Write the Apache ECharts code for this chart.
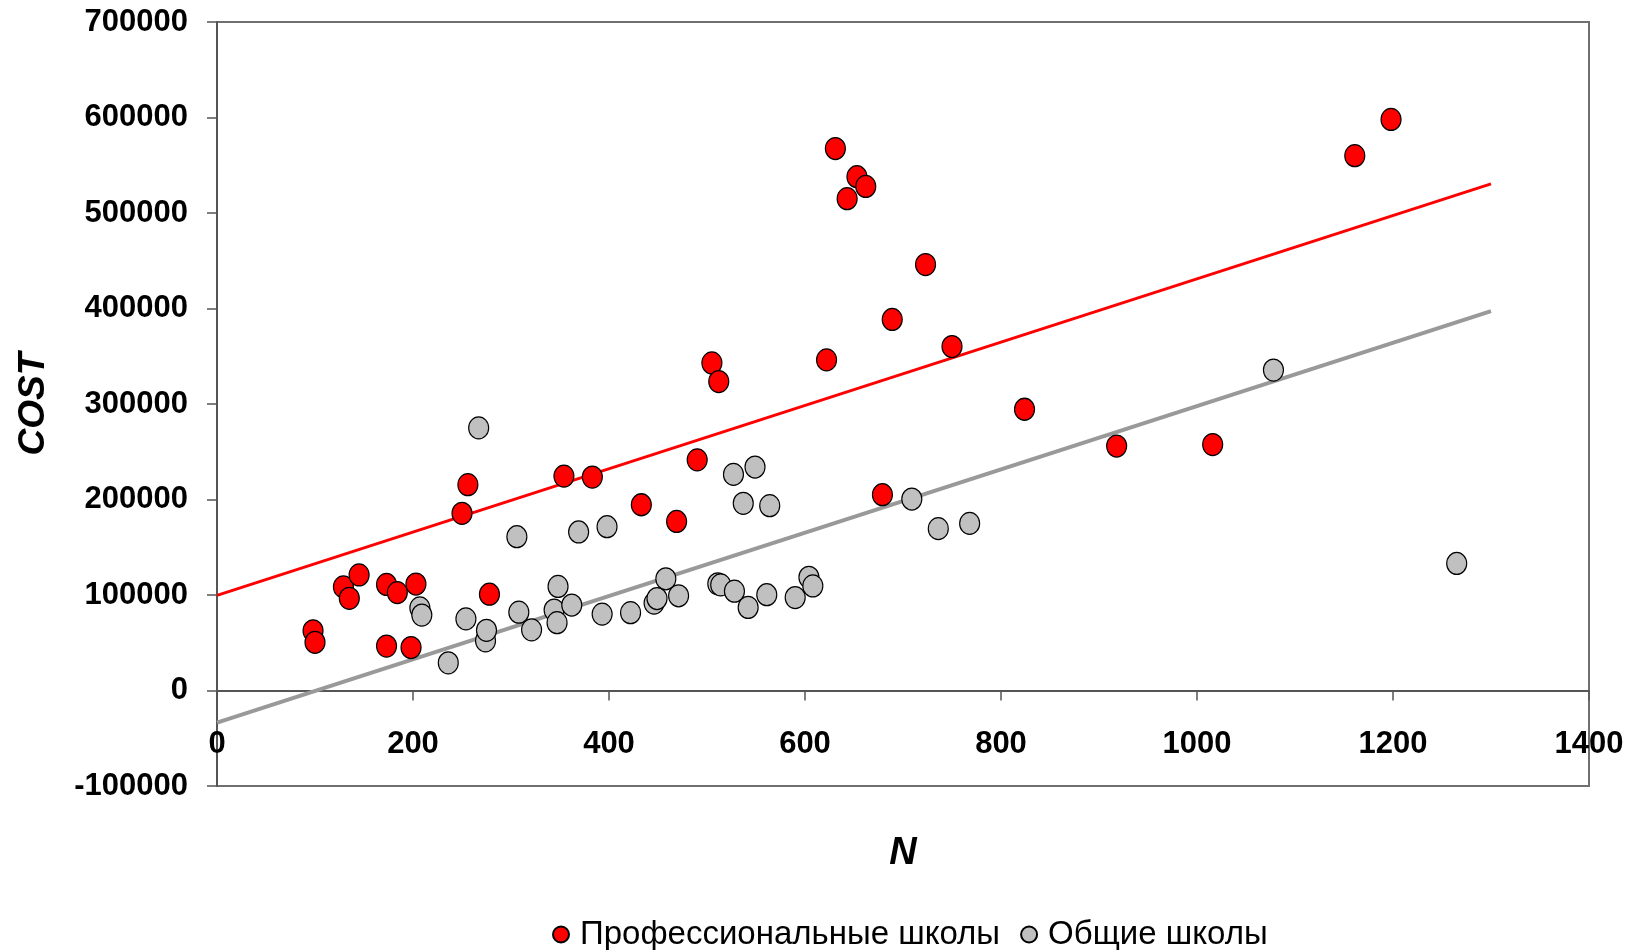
<!DOCTYPE html>
<html>
<head>
<meta charset="utf-8">
<script src="https://cdn.jsdelivr.net/npm/echarts@6/dist/echarts.min.js"></script>
<style>
html,body{margin:0;padding:0;background:#fff;}
#chart{width:1643px;height:950px;}
</style>
</head>
<body>
<div id="chart"></div>
<script>
// Профессиональные школы (occupational schools): [N, COST]
const profSchools = [
  [98, 62500], [100, 50500], [129, 108500], [135, 96500], [145, 121000],
  [173, 111000], [173, 46500], [184, 102500], [198, 45000], [203, 111500],
  [250, 185500], [256, 215500], [278, 100800], [354, 224500], [383, 223500],
  [433, 194500], [469, 177000], [490, 241500], [505, 343000], [512, 323500],
  [622, 346200], [631, 567500], [643, 515000], [653, 538000], [662, 527800],
  [679, 205000], [689, 388500], [723, 446000], [750, 360200], [824, 294500],
  [918, 256000], [1016, 257500], [1161, 560000], [1198, 598000]
];
// Общие школы (general schools): [N, COST]
const genSchools = [
  [207, 86500], [209, 79000], [236, 29000], [254, 75000], [267, 275000],
  [274, 52000], [275, 63000], [306, 161000], [308, 82000], [321, 63500],
  [344, 84200], [347, 71000], [348, 109000], [362, 89500], [369, 166000],
  [393, 80000], [398, 171500], [422, 81500], [446, 91500], [449, 96300],
  [458, 117000], [471, 99200], [511, 111700], [514, 110600], [527, 226300],
  [528, 104000], [537, 196000], [542, 87000], [549, 234000], [561, 100300],
  [564, 193500], [590, 97300], [604, 118500], [608, 109500], [709, 200500],
  [736, 169500], [768, 175000], [1078, 335500], [1265, 133000]
];
// Fitted lines (endpoints)
const profFit = [[0, 99650], [1300, 530500]];
const genFit = [[0, -33600], [1300, 397300]];

const xTicks = [0, 200, 400, 600, 800, 1000, 1200, 1400];
const yTicks = [-100000, 0, 100000, 200000, 300000, 400000, 500000, 600000, 700000];

const FONT = '"Liberation Sans", Arial, sans-serif';
const AXC = '#555555';

const chart = echarts.init(document.getElementById('chart'), null, {renderer: 'canvas'});
chart.setOption({
  backgroundColor: '#ffffff',
  animation: false,
  grid: {
    left: 217, right: 54, top: 22, bottom: 164,
    outerBoundsMode: 'none', containLabel: false,
    show: true, borderColor: '#707070', borderWidth: 2, backgroundColor: 'transparent'
  },
  xAxis: [
    {
      // zero line with its ticks
      type: 'value',
      min: xTicks[0], max: xTicks[xTicks.length - 1], interval: 200,
      axisLine: {show: true, onZero: true, lineStyle: {color: AXC, width: 2}},
      axisTick: {show: true, inside: false, length: 10, lineStyle: {color: AXC, width: 1.5}},
      axisLabel: {show: false},
      splitLine: {show: false}
    },
    {
      // labels and axis title, anchored to the bottom of the plot
      type: 'value', position: 'bottom',
      min: xTicks[0], max: xTicks[xTicks.length - 1], interval: 200,
      name: 'N', nameLocation: 'middle', nameGap: 49,
      nameTextStyle: {fontFamily: FONT, fontSize: 38, fontWeight: 'bold', fontStyle: 'italic', color: '#000'},
      axisLine: {show: false, onZero: false},
      axisTick: {show: false},
      axisLabel: {inside: true, margin: 26, fontFamily: FONT, fontSize: 31, fontWeight: 'bold', color: '#000',
        formatter: v => String(v)},
      splitLine: {show: false}
    }
  ],
  yAxis: {
    type: 'value',
    min: yTicks[0], max: yTicks[yTicks.length - 1], interval: 100000,
    name: 'COST', nameLocation: 'middle', nameGap: 165, nameRotate: 90,
    nameTextStyle: {fontFamily: FONT, fontSize: 37, fontWeight: 'bold', fontStyle: 'italic', color: '#000'},
    axisLine: {show: true, onZero: false, lineStyle: {color: AXC, width: 2}},
    axisTick: {show: true, inside: false, length: 10, lineStyle: {color: AXC, width: 1.5}},
    axisLabel: {margin: 29, fontFamily: FONT, fontSize: 31, fontWeight: 'bold', color: '#000',
      formatter: v => String(v)},
    splitLine: {show: false}
  },
  legend: {
    data: ['Профессиональные школы', 'Общие школы'],
    top: 913, left: 547,
    icon: 'circle', itemWidth: 16, itemHeight: 18, itemGap: 20,
    textStyle: {fontFamily: FONT, fontSize: 33, color: '#000', padding: [0, 0, 0, 6]}
  },
  series: [
    {
      name: 'profFit', type: 'line', data: profFit, showSymbol: false, z: 1,
      lineStyle: {color: '#ff0000', width: 3}, silent: true
    },
    {
      name: 'genFit', type: 'line', data: genFit, showSymbol: false, z: 1,
      lineStyle: {color: '#999999', width: 4}, silent: true
    },
    {
      name: 'Профессиональные школы', type: 'scatter', data: profSchools, z: 3,
      symbol: 'circle', symbolSize: [20, 22],
      itemStyle: {color: '#ff0000', borderColor: '#000', borderWidth: 1.2, opacity: 1}
    },
    {
      name: 'Общие школы', type: 'scatter', data: genSchools, z: 4,
      symbol: 'circle', symbolSize: [20, 22],
      itemStyle: {color: '#c0c0c0', borderColor: '#000', borderWidth: 1.2, opacity: 1}
    }
  ]
});
</script>
</body>
</html>
